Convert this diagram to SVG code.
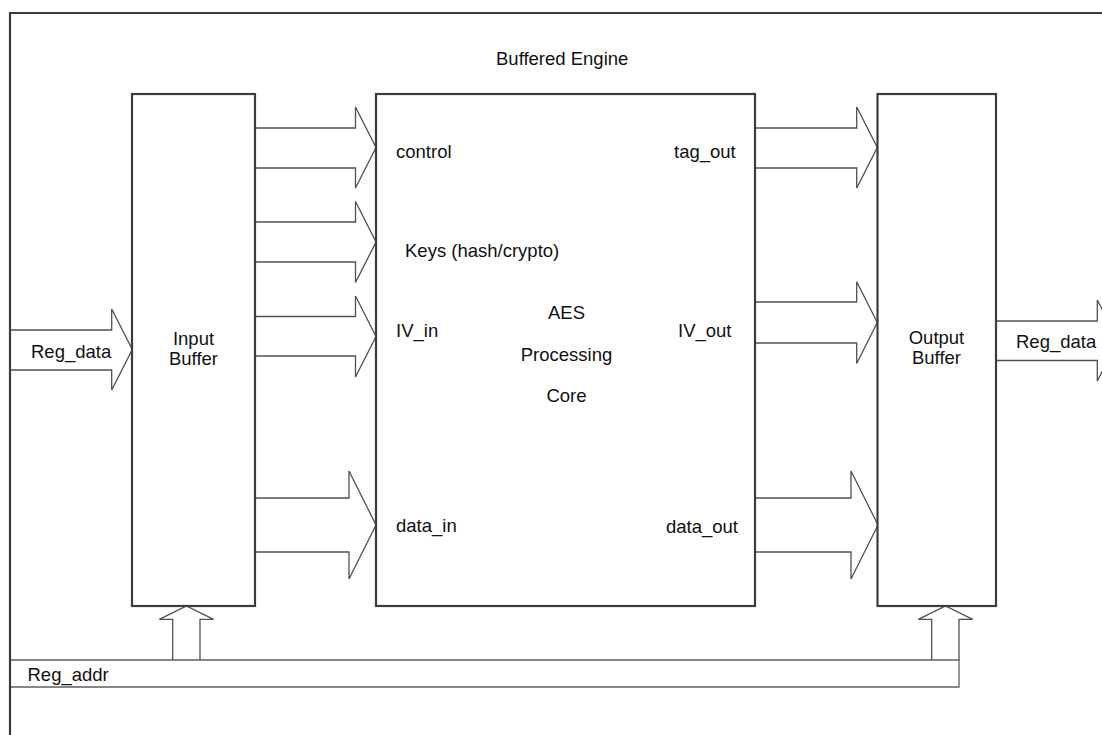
<svg xmlns="http://www.w3.org/2000/svg" width="1102" height="735" viewBox="0 0 1102 735">
<style>
.frame{fill:none;stroke:#3c3c3c;stroke-width:2.2}
.box{fill:#fff;stroke:#3c3c3c;stroke-width:2.2}
.arr{fill:#fff;stroke:#505050;stroke-width:1.3;stroke-linejoin:miter}
.bus{fill:none;stroke:#606060;stroke-width:1.3}
text{font-family:"Liberation Sans",Arial,sans-serif;font-size:18.5px;fill:#111}
.c{text-anchor:middle}
</style>
<rect width="1102" height="735" fill="#fff"/>
<g id="connectors">
<polyline class="arr" points="10,330 111.7,330 111.7,309 132.3,349.5 111.7,390 111.7,370 10,370"/>
<polyline class="arr" points="255,128 355.5,128 355.5,107 376,147.5 355.5,188 355.5,168 255,168"/>
<polyline class="arr" points="255,222 355.5,222 355.5,201.5 376,242 355.5,282.5 355.5,262 255,262"/>
<polyline class="arr" points="255,316.5 355.5,316.5 355.5,296 376,336.5 355.5,377 355.5,356 255,356"/>
<polyline class="arr" points="255,498 349,498 349,471 376,525 349,579 349,552 255,552"/>
<polyline class="arr" points="755,128 856.7,128 856.7,107 877.3,147.5 856.7,188 856.7,168 755,168"/>
<polyline class="arr" points="755,302 856.7,302 856.7,281.7 877.3,322.5 856.7,363.5 856.7,343 755,343"/>
<polyline class="arr" points="755,498 851,498 851,471 878,525 851,579 851,552 755,552"/>
<polyline class="arr" points="996,321 1097.3,321 1097.3,300 1118,340.5 1097.3,381 1097.3,360.5 996,360.5"/>
<polyline class="arr" points="172.7,660 172.7,619.3 159.3,619.3 186.5,606 213.5,619.3 200,619.3 200,660"/>
<polyline class="arr" points="931.7,660 931.7,619.3 918.3,619.3 945.5,606 972.7,619.3 959,619.3 959,660"/>
<polyline class="bus" points="10,660 959,660 959,687 10,687"/>
<text x="31" y="358">Reg_data</text>
<text x="1016" y="348">Reg_data</text>
<text x="27.5" y="681">Reg_addr</text>
</g>
<g id="frame">
<polyline class="frame" points="10,745 10,13 1110,13"/>
<text x="496" y="65">Buffered Engine</text>
</g>
<g id="input-buffer">
<rect class="box" x="132" y="94" width="123" height="512"/>
<text class="c" x="193.5" y="345">Input</text>
<text class="c" x="193.5" y="365">Buffer</text>
</g>
<g id="core">
<rect class="box" x="376" y="94" width="379" height="512"/>
<text x="396" y="158">control</text>
<text x="405" y="257">Keys (hash/crypto)</text>
<text x="396" y="337">IV_in</text>
<text x="396" y="532">data_in</text>
<text class="c" x="566.5" y="319">AES</text>
<text class="c" x="566.5" y="361">Processing</text>
<text class="c" x="566.5" y="402">Core</text>
<text x="674" y="158">tag_out</text>
<text x="678" y="337">IV_out</text>
<text x="666" y="533">data_out</text>
</g>
<g id="output-buffer">
<rect class="box" x="877.5" y="94" width="118.5" height="512"/>
<text class="c" x="936.5" y="344">Output</text>
<text class="c" x="936.5" y="364">Buffer</text>
</g>
</svg>
